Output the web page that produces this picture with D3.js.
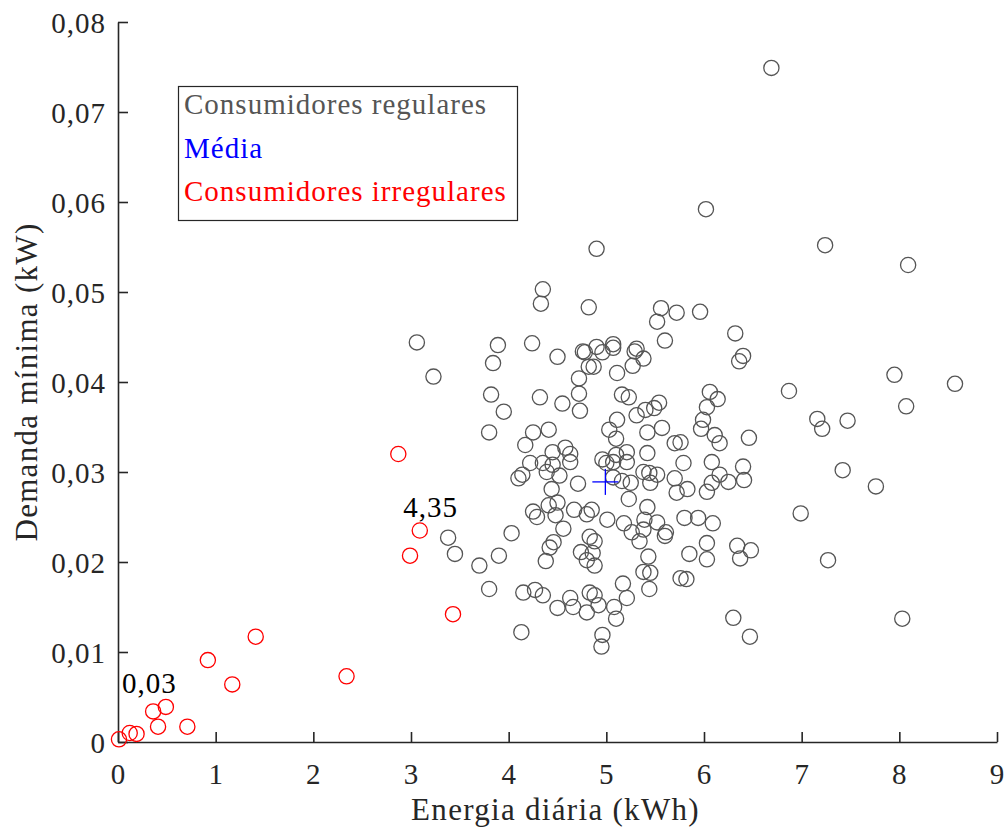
<!DOCTYPE html>
<html>
<head>
<meta charset="utf-8">
<script src="https://cdn.jsdelivr.net/npm/d3@7"></script>
<style>
  html, body { margin: 0; padding: 0; background: #fff; }
  svg { display: block; }
  text { font-family: "Liberation Serif", "Times New Roman", serif; }
</style>
</head>
<body>
<script>
// ---- data ----
const regularX = [4.35,4.33,3.06,3.89,4.24,3.84,4.50,4.76,3.23,4.72,4.82,3.82,4.32,4.72,4.55,3.95,4.73,3.80,4.25,4.41,4.17,4.45,4.58,4.63,4.22,4.35,4.45,4.63,
  4.82,5.56,5.52,5.72,5.96,6.32,5.60,6.40,6.36,4.78,4.90,4.96,5.07,5.07,5.29,5.31,5.38,5.27,4.87,5.11,5.16,5.23,6.06,6.14,6.03,5.54,5.49,5.40,5.31,5.11,5.03,5.10,5.99,5.97,5.42,5.57,6.11,6.16,6.46,5.70,5.76,5.21,5.10,4.96,5.00,5.07,5.21,5.42,5.79,6.08,6.40,
  6.69,6.02,7.24,8.09,4.90,6.87,7.16,7.21,7.47,7.95,8.57,8.07,7.42,7.76,6.99,7.27,8.03,6.30,6.47,
  4.10,4.14,4.39,4.52,4.44,4.71,4.25,4.29,4.41,4.50,4.48,4.67,4.80,4.56,4.46,4.42,4.38,4.03,3.38,3.45,3.70,3.90,3.80,4.15,4.27,4.35,4.50,4.63,4.66,4.74,4.80,4.83,4.13,4.80,4.83,
  5.07,5.16,5.25,5.38,5.44,5.52,5.45,5.70,5.72,5.83,6.03,6.08,6.16,6.25,6.41,5.23,5.42,4.85,5.01,5.18,5.26,5.39,5.38,5.34,5.52,5.61,5.60,5.80,5.94,6.09,4.88,4.86,4.88,5.43,5.38,5.45,5.44,5.85,6.03,6.03,6.34,6.48,6.37,5.76,5.82,5.17,5.21,4.88,4.92,5.08,5.10,4.96,4.95];
const regularY = [0.0503,0.0487,0.0444,0.0441,0.0443,0.0421,0.0428,0.0434,0.0406,0.0404,0.0417,0.0386,0.0383,0.0387,0.0376,0.0367,0.0368,0.0344,0.0344,0.0347,0.0330,0.0322,0.0327,0.0320,0.0310,0.0310,0.0308,0.0311,
  0.0483,0.0482,0.0467,0.0477,0.0478,0.0454,0.0446,0.0429,0.0423,0.0433,0.0439,0.0433,0.0442,0.0438,0.0434,0.0437,0.0426,0.0418,0.0417,0.0410,0.0386,0.0383,0.0389,0.0381,0.0372,0.0377,0.0371,0.0369,0.0363,0.0358,0.0347,0.0337,0.0358,0.0348,0.0344,0.0349,0.0341,0.0332,0.0338,0.0332,0.0333,0.0322,0.0319,0.0314,0.0310,0.0311,0.0311,0.0321,0.0310,0.0311,0.0306,
  0.0749,0.0592,0.0552,0.0530,0.0548,0.0390,0.0359,0.0348,0.0357,0.0408,0.0398,0.0373,0.0302,0.0284,0.0254,0.0202,0.0137,0.0138,0.0117,
  0.0293,0.0297,0.0300,0.0296,0.0281,0.0287,0.0256,0.0250,0.0263,0.0266,0.0252,0.0258,0.0253,0.0237,0.0222,0.0216,0.0201,0.0232,0.0227,0.0209,0.0196,0.0207,0.0170,0.0166,0.0169,0.0163,0.0149,0.0160,0.0150,0.0211,0.0202,0.0228,0.0122,0.0144,0.0166,
  0.0294,0.0290,0.0288,0.0300,0.0299,0.0297,0.0288,0.0293,0.0277,0.0281,0.0278,0.0288,0.0297,0.0289,0.0291,0.0270,0.0261,0.0258,0.0247,0.0243,0.0233,0.0247,0.0236,0.0223,0.0244,0.0233,0.0229,0.0249,0.0249,0.0243,0.0223,0.0210,0.0196,0.0206,0.0189,0.0188,0.0170,0.0209,0.0221,0.0203,0.0218,0.0213,0.0204,0.0182,0.0181,0.0176,0.0160,0.0163,0.0152,0.0150,0.0137,0.0119,0.0106];

const irregularX = [0.01,0.12,0.19,0.36,0.49,0.41,0.71,0.92,1.17,1.41,2.34,3.43,2.87,3.09,2.99];
const irregularY = [0.0003,0.0010,0.0009,0.0034,0.0039,0.0017,0.0017,0.0091,0.0064,0.0117,0.0073,0.0142,0.0320,0.0235,0.0207];

const meanX = 4.99, meanY = 0.0289;

const xTicks = [0,1,2,3,4,5,6,7,8,9];
const yTicks = [0,0.01,0.02,0.03,0.04,0.05,0.06,0.07,0.08];
const yTickLabels = ["0","0,01","0,02","0,03","0,04","0,05","0,06","0,07","0,08"];

const legendItems = ["Consumidores regulares","Média","Consumidores irregulares"];
const annotations = [{label:"0,03", x:0.04, y:0.0055},{label:"4,35", x:2.92, y:0.025}];

const xTitle = "Energia diária (kWh)";
const yTitle = "Demanda mínima (kW)";

// ---- layout ----
const W = 1005, H = 828;
const L = 118, R = 997, T = 22, B = 742;
const GREY = "#555555", RED = "#ff0000", BLUE = "#0000ff", AX = "#262626";

const svg = d3.select("body").append("svg").attr("width", W).attr("height", H);

const x = d3.scaleLinear().domain([0, 9]).range([L, R]);
const y = d3.scaleLinear().domain([0, 0.08]).range([B, T]);

// axes
const xAxis = d3.axisBottom(x).tickValues(xTicks).tickSizeInner(-10).tickSizeOuter(0).tickPadding(22).tickFormat(d => String(d));
const yAxis = d3.axisLeft(y).tickValues(yTicks).tickSizeInner(-10).tickSizeOuter(0).tickPadding(12).tickFormat((d,i) => yTickLabels[i]);

const gx = svg.append("g").attr("transform", `translate(0,${B})`).call(xAxis);
const gy = svg.append("g").attr("transform", `translate(${L},0)`).call(yAxis);
[gx, gy].forEach(g => {
  g.select(".domain").attr("stroke", AX).attr("stroke-width", 1.6);
  g.selectAll(".tick line").attr("stroke", AX).attr("stroke-width", 1.6);
  g.selectAll(".tick text").attr("fill", AX).style("font-size", "29px")
    .style("letter-spacing", "1px").style("font-family", "'Liberation Serif', serif");
});
gy.selectAll(".tick text").attr("dy", "0.36em");
gx.selectAll(".tick text").attr("dy", "0.68em");

// titles
svg.append("text").attr("x", (L + R) / 2 - 2).attr("y", 820).attr("text-anchor", "middle")
  .attr("fill", AX).style("font-size", "31px").style("letter-spacing", "1.3px").text(xTitle);
svg.append("text").attr("transform", `translate(37,${(T + B) / 2}) rotate(-90)`).attr("text-anchor", "middle")
  .attr("fill", AX).style("font-size", "31px").style("letter-spacing", "1.3px").text(yTitle);

// regular points
const regular = regularX.map((v, i) => ({x: v, y: regularY[i]}));
svg.append("g").selectAll("circle").data(regular).join("circle")
  .attr("cx", d => x(d.x)).attr("cy", d => y(d.y)).attr("r", 7.6)
  .attr("fill", "none").attr("stroke", GREY).attr("stroke-width", 1.3);

// irregular points
const irregular = irregularX.map((v, i) => ({x: v, y: irregularY[i]}));
svg.append("g").selectAll("circle").data(irregular).join("circle")
  .attr("cx", d => x(d.x)).attr("cy", d => y(d.y)).attr("r", 7.6)
  .attr("fill", "none").attr("stroke", RED).attr("stroke-width", 1.3);

// mean marker
const mg = svg.append("g").attr("stroke", BLUE).attr("stroke-width", 1.3);
mg.append("line").attr("x1", x(meanX) - 13).attr("x2", x(meanX) + 13).attr("y1", y(meanY)).attr("y2", y(meanY));
mg.append("line").attr("x1", x(meanX)).attr("x2", x(meanX)).attr("y1", y(meanY) - 13).attr("y2", y(meanY) + 13);

// annotations
svg.append("g").selectAll("text").data(annotations).join("text")
  .attr("x", d => x(d.x)).attr("y", d => y(d.y)).attr("fill", "#000")
  .style("font-size", "29px").style("letter-spacing", "1px").text(d => d.label);

// legend
const lg = svg.append("g");
lg.append("rect").attr("x", 178.5).attr("y", 86.5).attr("width", 339).attr("height", 134)
  .attr("fill", "#fff").attr("stroke", AX).attr("stroke-width", 1.2);
const legendColors = [GREY, BLUE, RED];
lg.selectAll("text").data(legendItems).join("text")
  .attr("x", 184).attr("y", (d, i) => 114 + i * 43.5)
  .attr("fill", (d, i) => legendColors[i]).style("font-size", "29px").style("letter-spacing", "1px").text(d => d);
</script>
</body>
</html>
